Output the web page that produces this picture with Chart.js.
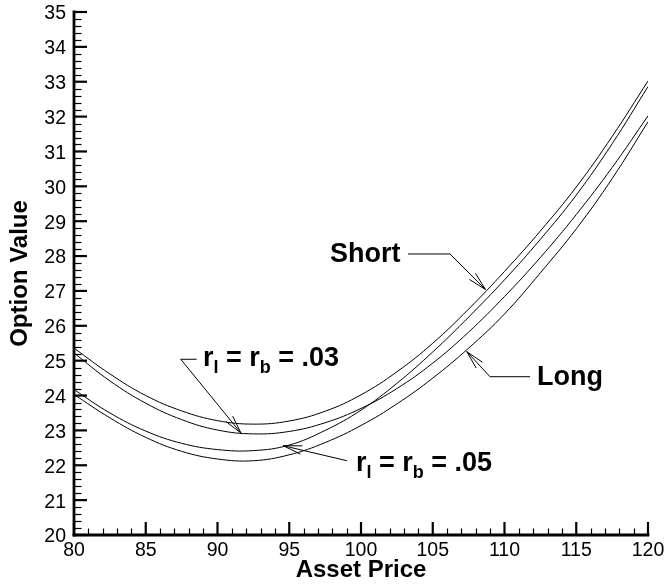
<!DOCTYPE html>
<html>
<head>
<meta charset="utf-8">
<style>
  html, body { margin: 0; padding: 0; background: #fff; }
  #wrap { width: 667px; height: 588px; }
  canvas { display: block; }
</style>
<script src="https://cdn.jsdelivr.net/npm/chart.js@4.4.1/dist/chart.umd.min.js"></script>
</head>
<body>
<div id="wrap"><canvas id="chart" width="667" height="588"></canvas></div>
<script>
// Asset price grid (x) and option values for the four pricing cases
const assetPrice  = [80, 82.5, 85, 87.5, 90, 92.5, 95, 97.5, 100, 102.5, 105, 107.5, 110, 112.5, 115, 117.5, 120];
// r_l = r_b = .03
const shortRate03 = [25.36, 24.62, 24.00, 23.56, 23.28, 23.18, 23.27, 23.55, 24.02, 24.68, 25.50, 26.48, 27.56, 28.72, 29.98, 31.43, 33.02];
const longRate03  = [25.22, 24.42, 23.78, 23.31, 23.01, 22.90, 22.97, 23.22, 23.63, 24.20, 24.93, 25.82, 26.84, 27.96, 29.19, 30.54, 32.02];
// r_l = r_b = .05
const shortRate05 = [24.17, 23.50, 22.98, 22.63, 22.45, 22.42, 22.58, 23.00, 23.58, 24.35, 25.25, 26.25, 27.32, 28.48, 29.75, 31.22, 32.86];
const longRate05  = [24.03, 23.36, 22.80, 22.40, 22.18, 22.13, 22.30, 22.65, 23.14, 23.76, 24.50, 25.36, 26.34, 27.52, 28.78, 30.22, 31.85];

// Axis ticks
const xTickValues = [80, 85, 90, 95, 100, 105, 110, 115, 120];
const yTickValues = [20, 21, 22, 23, 24, 25, 26, 27, 28, 29, 30, 31, 32, 33, 34, 35];
const xMinorStep = 1;
const yMinorStep = 0.2;

const FONT = '"Liberation Sans", Arial, Helvetica, sans-serif';

// Callout labels: text anchor (left, baseline) and leader path in data units, arrow at the last point
const callouts = [
  { parts: [['Short', 0]], at: [97.84, 27.83],
    path: [[103.28, 28.06], [106.2, 28.06], [108.68, 27.04]] },
  { parts: [['Long', 0]], at: [112.26, 24.30],
    path: [[111.78, 24.54], [108.99, 24.54], [107.37, 25.26]] },
  { parts: [['r', 0], ['l', 1], [' = r', 0], ['b', 1], [' = .03', 0]], at: [88.99, 24.84],
    path: [[88.55, 25.04], [87.44, 25.04], [91.64, 22.92]] },
  { parts: [['r', 0], ['l', 1], [' = r', 0], ['b', 1], [' = .05', 0]], at: [99.65, 21.84],
    path: [[99.02, 22.13], [94.59, 22.56]] }
];

const series = [shortRate03, longRate03, shortRate05, longRate05];

// keep the plot area fixed: no extra room reserved for overhanging tick labels
const noLabelPadding = s => {
  s.paddingTop = 0; s.paddingBottom = 0; s.paddingLeft = 0; s.paddingRight = 0;
};

const inwardAxes = {
  id: 'inwardAxes',
  afterDraw(chart) {
    const { ctx, chartArea: a, scales: { x, y } } = chart;
    ctx.save();
    ctx.strokeStyle = '#000';
    ctx.lineCap = 'butt';

    const seg = (x1, y1, x2, y2) => { ctx.beginPath(); ctx.moveTo(x1, y1); ctx.lineTo(x2, y2); ctx.stroke(); };

    // minor ticks
    ctx.lineWidth = 1.2;
    for (let v = x.min; v <= x.max + 1e-9; v += xMinorStep) {
      if (xTickValues.some(t => Math.abs(t - v) < 1e-6)) continue;
      const px = Math.round(x.getPixelForValue(v)) + 0.5;
      seg(px, a.bottom, px, a.bottom - 6.5);
    }
    for (let k = 0; y.min + k * yMinorStep <= y.max + 1e-9; k++) {
      const v = y.min + k * yMinorStep;
      if (yTickValues.some(t => Math.abs(t - v) < 1e-6)) continue;
      const py = Math.round(y.getPixelForValue(v)) + 0.5;
      seg(a.left, py, a.left + 7.5, py);
    }
    // major ticks
    ctx.lineWidth = 2.2;
    xTickValues.forEach(v => {
      const px = x.getPixelForValue(v);
      seg(px, a.bottom, px, a.bottom - 13);
    });
    yTickValues.forEach(v => {
      const py = y.getPixelForValue(v);
      seg(a.left, py, a.left + 13, py);
    });
    // axis lines
    ctx.lineWidth = 2.8;
    ctx.lineCap = 'square';
    seg(a.left, y.getPixelForValue(y.max), a.left, a.bottom);
    seg(a.left, a.bottom, x.getPixelForValue(x.max), a.bottom);

    // callouts
    ctx.lineCap = 'butt';
    ctx.lineWidth = 1;
    ctx.fillStyle = '#000';
    ctx.textBaseline = 'alphabetic';
    ctx.textAlign = 'left';
    const headLen = 19, headAng = 13 * Math.PI / 180;
    callouts.forEach(c => {
      const pts = c.path.map(([s, v]) => [x.getPixelForValue(s), y.getPixelForValue(v)]);
      ctx.beginPath();
      ctx.moveTo(pts[0][0], pts[0][1]);
      for (let i = 1; i < pts.length; i++) ctx.lineTo(pts[i][0], pts[i][1]);
      ctx.stroke();
      const [tx, ty] = pts[pts.length - 1];
      const [qx, qy] = pts[pts.length - 2];
      const ang = Math.atan2(qy - ty, qx - tx);
      ctx.beginPath();
      [-1, 1].forEach(s => {
        ctx.moveTo(tx, ty);
        ctx.lineTo(tx + headLen * Math.cos(ang + s * headAng), ty + headLen * Math.sin(ang + s * headAng));
      });
      ctx.stroke();

      let cx = x.getPixelForValue(c.at[0]);
      const cy = y.getPixelForValue(c.at[1]);
      c.parts.forEach(([t, sub]) => {
        ctx.font = sub ? `bold 18px ${FONT}` : `bold 27px ${FONT}`;
        ctx.fillText(t, cx, sub ? cy + 7 : cy);
        cx += ctx.measureText(t).width;
      });
    });
    ctx.restore();
  }
};

new Chart(document.getElementById('chart'), {
  type: 'line',
  data: {
    datasets: series.map(vals => ({
      data: assetPrice.map((s, i) => ({ x: s, y: vals[i] })),
      borderColor: '#000',
      borderWidth: 1,
      pointRadius: 0,
      fill: false,
      tension: 0.4
    }))
  },
  options: {
    responsive: false,
    animation: false,
    devicePixelRatio: 1,
    layout: { padding: { top: 12, right: 19, left: 0, bottom: 0 } },
    plugins: { legend: { display: false }, tooltip: { enabled: false } },
    scales: {
      x: {
        type: 'linear',
        min: 80, max: 120,
        afterBuildTicks: s => { s.ticks = xTickValues.map(v => ({ value: v })); },
        afterFit: s => { s.height = 53; noLabelPadding(s); },
        grid: { display: false, drawTicks: false },
        border: { display: false },
        ticks: { color: '#000', font: { family: FONT, size: 19.5 }, padding: 4, maxRotation: 0, autoSkip: false },
        title: { display: true, text: 'Asset Price', color: '#000',
                 font: { family: FONT, size: 24, weight: 'bold', lineHeight: 1.2 },
                 padding: { top: 0, bottom: 3 } }
      },
      y: {
        type: 'linear',
        min: 20, max: 35,
        afterBuildTicks: s => { s.ticks = yTickValues.map(v => ({ value: v })); },
        afterFit: s => { s.width = 74; noLabelPadding(s); },
        grid: { display: false, drawTicks: false },
        border: { display: false },
        ticks: { color: '#000', font: { family: FONT, size: 19.5 }, padding: 8, labelOffset: 2, autoSkip: false },
        title: { display: true, text: 'Option Value', color: '#000',
                 font: { family: FONT, size: 24, weight: 'bold', lineHeight: 1.2 },
                 padding: { top: 6, bottom: 0 } }
      }
    }
  },
  plugins: [inwardAxes]
});
</script>
</body>
</html>
